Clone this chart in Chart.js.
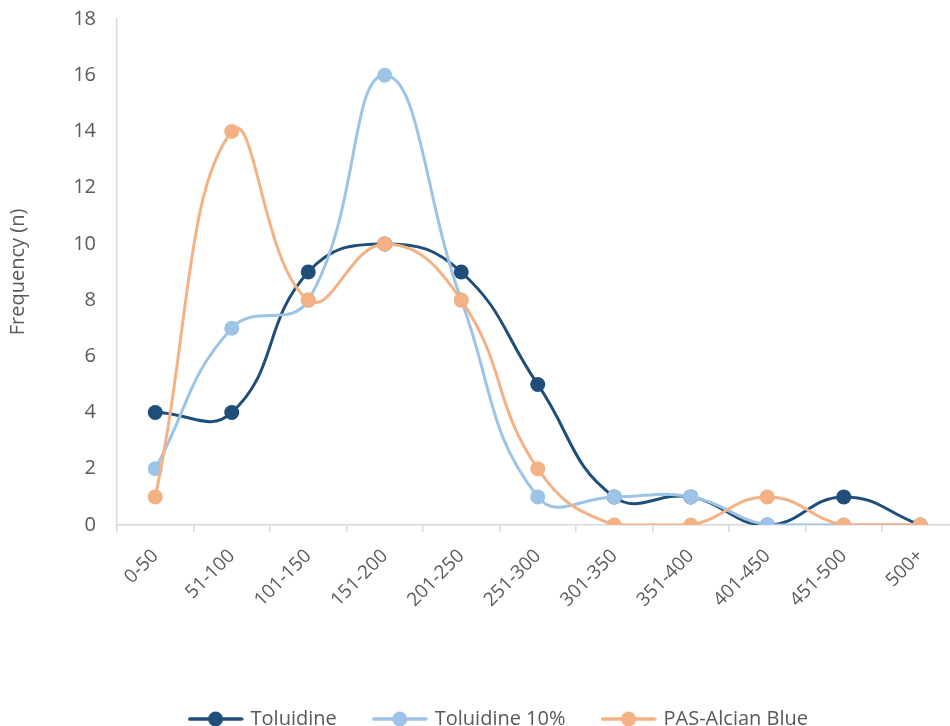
<!DOCTYPE html>
<html>
<head>
<meta charset="utf-8">
<script src="https://cdn.jsdelivr.net/npm/chart.js@4.4.1/dist/chart.umd.min.js"></script>
<style>
  html, body { margin: 0; padding: 0; background: #ffffff; overflow: hidden; }
  #wrap { width: 950px; height: 726px; overflow: hidden; }
  canvas { display: block; }
</style>
</head>
<body>
<div id="wrap"><canvas id="chart" width="970" height="739"></canvas></div>
<script>
// Size classes (µm) and counts per staining method
const categories = ['0-50', '51-100', '101-150', '151-200', '201-250', '251-300',
                    '301-350', '351-400', '401-450', '451-500', '500+'];
const toluidine      = [4, 4, 9, 10, 9, 5, 1, 1, 0, 1, 0];
const toluidine10    = [2, 7, 8, 16, 8, 1, 1, 1, 0, 0, 0];
const pasAlcianBlue  = [1, 14, 8, 10, 8, 2, 0, 0, 1, 0, 0];
const yTicks = [0, 2, 4, 6, 8, 10, 12, 14, 16, 18];

const FONT = '"Open Sans", "Noto Sans", sans-serif';
const TEXT = '#595959';
const AXIS = '#d9d9d9';

// Legend marker: short line with a dot in the middle
function legendMarker(color) {
  const c = document.createElement('canvas');
  c.width = 56; c.height = 18;
  const g = c.getContext('2d');
  g.strokeStyle = color; g.lineWidth = 3.5; g.lineCap = 'round';
  g.beginPath(); g.moveTo(2, 9); g.lineTo(54, 9); g.stroke();
  g.fillStyle = color;
  g.beginPath(); g.arc(28, 9, 7.5, 0, Math.PI * 2); g.fill();
  return c;
}

function series(label, data, color, order) {
  return {
    label, data, order,
    borderColor: color, backgroundColor: color,
    borderWidth: 3, tension: 0.45,
    pointRadius: 7.5, pointHoverRadius: 7.5,
    pointBackgroundColor: color, pointBorderColor: color, pointBorderWidth: 0,
    pointStyle: 'circle',
    marker: legendMarker(color)
  };
}

// Shift the legend row so it sits centred under the plot as a whole
const legendShift = {
  id: 'legendShift',
  afterLayout(chart) {
    const lg = chart.legend;
    if (lg) { lg.left += 20; lg.right += 20; }
  }
};

new Chart(document.getElementById('chart'), {
  type: 'line',
  data: {
    labels: categories,
    datasets: [
      series('Toluidine', toluidine, '#1f4e79', 3),
      series('Toluidine 10%', toluidine10, '#9dc3e6', 2),
      series('PAS-Alcian Blue', pasAlcianBlue, '#f4b183', 1)
    ]
  },
  options: {
    responsive: false,
    animation: false,
    layout: { padding: { top: 0, right: 11.5, left: 0, bottom: 0 } },
    plugins: {
      tooltip: { enabled: false },
      legend: {
        position: 'bottom',
        labels: {
          usePointStyle: true,
          pointStyleWidth: 50,
          boxHeight: 16,
          padding: 38,
          color: TEXT,
          font: { family: FONT, size: 20 },
          generateLabels(chart) {
            return chart.data.datasets.map((ds, i) => ({
              text: ds.label,
              pointStyle: ds.marker,
              fillStyle: ds.borderColor,
              strokeStyle: ds.borderColor,
              lineWidth: 0,
              fontColor: TEXT,
              hidden: false,
              datasetIndex: i
            }));
          }
        }
      }
    },
    scales: {
      x: {
        type: 'category',
        offset: true,
        grid: {
          offset: true,
          drawOnChartArea: false,
          drawTicks: true,
          tickLength: 7,
          color: AXIS,
          lineWidth: 1.5
        },
        border: { display: true, color: AXIS, width: 1.5 },
        ticks: {
          color: TEXT,
          font: { family: FONT, size: 19 },
          minRotation: 45, maxRotation: 45,
          autoSkip: false,
          padding: 13
        },
        afterFit(scale) { scale.height = 146; }
      },
      y: {
        min: 0, max: 18,
        afterBuildTicks(scale) { scale.ticks = yTicks.map(v => ({ value: v })); },
        // invisible tick marks only push the labels away from the axis line
        grid: {
          display: true,
          drawOnChartArea: false,
          drawTicks: true,
          tickLength: 14,
          color: 'rgba(0,0,0,0)'
        },
        border: { display: true, color: AXIS, width: 1.5 },
        ticks: {
          color: TEXT,
          font: { family: FONT, size: 20 },
          padding: 7
        },
        title: {
          display: true,
          text: 'Frequency (n)',
          color: TEXT,
          font: { family: FONT, size: 20 },
          padding: { top: 6, bottom: 0 }
        },
        afterFit(scale) { scale.width = 117; }
      }
    }
  },
  plugins: [legendShift]
});
</script>
</body>
</html>
